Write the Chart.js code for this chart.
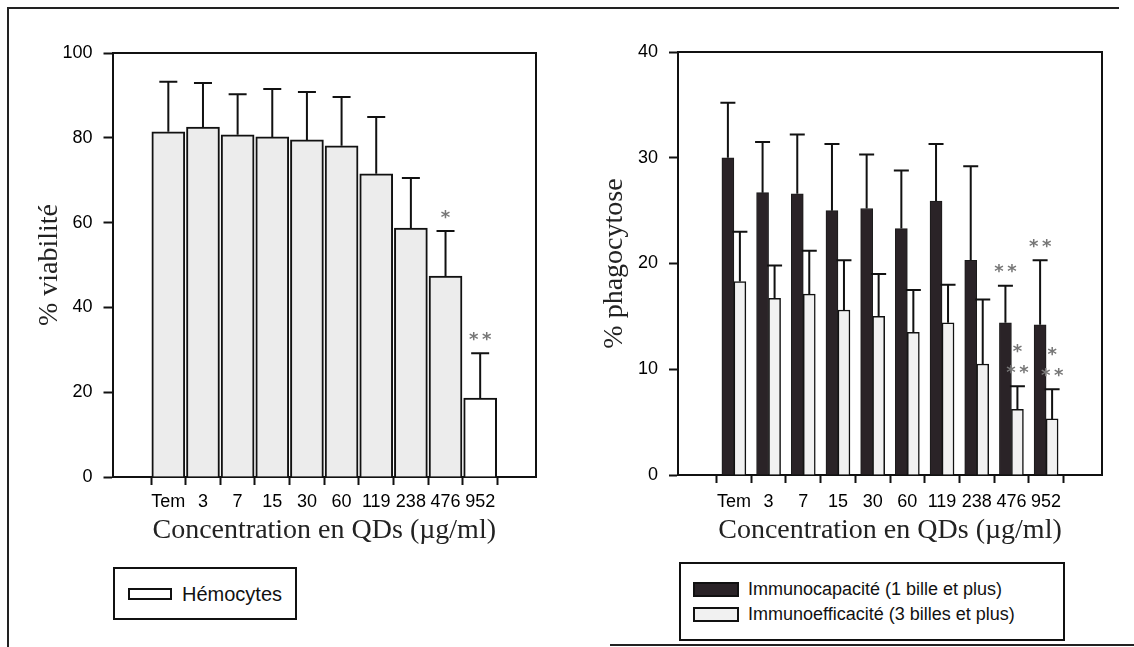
<!DOCTYPE html>
<html>
<head>
<meta charset="utf-8">
<script src="https://cdn.jsdelivr.net/npm/chart.js"></script>
<style>
  body { margin: 0; background: #fff; width: 1134px; height: 647px; position: relative; overflow: hidden;
         font-family: "Liberation Sans", Arial, sans-serif; color: #111; }
  canvas { position: absolute; top: 0; }
  #chartLeft { left: 0; }
  #chartRight { left: 567px; }
  .line { position: absolute; background: #222; }
  .legend { position: absolute; border: 2px solid #111; box-sizing: border-box; background: #fff; }
  .legend .row { display: flex; align-items: center; white-space: nowrap; }
  .legend .sw { box-sizing: border-box; border: 2px solid #111; }
</style>
</head>
<body>
  <div class="line" style="left:7px;top:7px;width:1112px;height:2px"></div>
  <div class="line" style="left:7px;top:7px;width:2px;height:640px"></div>
  <div class="line" style="left:610px;top:644px;width:524px;height:2px"></div>

  <canvas id="chartLeft" width="567" height="560"></canvas>
  <canvas id="chartRight" width="567" height="560"></canvas>

  <div class="legend" id="legendLeft" style="left:113px;top:567px;width:184px;height:53px;padding-top:13px"></div>
  <div class="legend" id="legendRight" style="left:679px;top:562px;width:386px;height:79px;padding-top:13px"></div>

<script>
const categories = ['Tem', '3', '7', '15', '30', '60', '119', '238', '476', '952'];

// % viabilité (hémocytes)
const viabilite    = [81.4, 82.5, 80.7, 80.2, 79.5, 78.1, 71.5, 58.7, 47.4, 18.6];
const viabiliteErr = [11.8, 10.4, 9.6, 11.3, 11.3, 11.5, 13.4, 11.8, 10.6, 10.6];
const viabiliteStars = [[], [], [], [], [], [], [], [], ['*'], ['**']];

// % phagocytose
const capacite      = [30.0, 26.7, 26.6, 25.0, 25.2, 23.3, 25.9, 20.3, 14.4, 14.2];
const capaciteErr   = [5.2, 4.8, 5.6, 6.3, 5.1, 5.5, 5.4, 8.9, 3.5, 6.1];
const capaciteStars = [[], [], [], [], [], [], [], [], ['**'], ['**']];
const efficacite      = [18.3, 16.7, 17.1, 15.6, 15.0, 13.5, 14.4, 10.5, 6.2, 5.3];
const efficaciteErr   = [4.7, 3.1, 4.1, 4.7, 4.0, 4.0, 3.6, 6.1, 2.2, 2.8];
const efficaciteStars = [[], [], [], [], [], [], [], [], ['**', '*'], ['**', '*']];

const pts = arr => arr.map((v, i) => ({ x: i, y: v }));

const errorBars = {
  id: 'errorBars',
  afterDatasetsDraw(chart, args, opts) {
    const ctx = chart.ctx, y = chart.scales.y;
    chart.data.datasets.forEach((ds, di) => {
      const meta = chart.getDatasetMeta(di);
      meta.data.forEach((bar, i) => {
        const top = y.getPixelForValue(ds.data[i].y + ds.errors[i]);
        ctx.save();
        ctx.strokeStyle = '#111';
        ctx.lineWidth = 2;
        ctx.beginPath();
        ctx.moveTo(bar.x, bar.y);
        ctx.lineTo(bar.x, top);
        ctx.moveTo(bar.x - opts.cap / 2, top);
        ctx.lineTo(bar.x + opts.cap / 2, top);
        ctx.stroke();
        ctx.fillStyle = '#777';
        ctx.font = 'bold 18px "DejaVu Sans"';
        ctx.textAlign = 'center';
        ctx.textBaseline = 'alphabetic';
        const m = ctx.measureText('*');
        const shift = (m.actualBoundingBoxAscent - m.actualBoundingBoxDescent) / 2;
        (ds.stars[i] || []).forEach((row, k) => {
          const cy = top - 17 - k * 21;
          for (let s = 0; s < row.length; s++) {
            ctx.fillText('*', bar.x + (s - (row.length - 1) / 2) * 13, cy + shift);
          }
        });
        ctx.restore();
      });
    });
  }
};

const plotFrame = {
  id: 'plotFrame',
  afterDraw(chart) {
    const { ctx, chartArea: a } = chart;
    ctx.save();
    ctx.strokeStyle = '#111';
    ctx.lineWidth = 2;
    ctx.beginPath();
    ctx.moveTo(a.left, a.top);
    ctx.lineTo(a.right, a.top);
    ctx.lineTo(a.right, a.bottom);
    ctx.stroke();
    ctx.restore();
  }
};

function makeOptions(o) {
  return {
    responsive: false,
    animation: false,
    layout: { padding: { left: 0, top: o.top, right: o.right, bottom: 0 } },
    plugins: { legend: { display: false }, tooltip: { enabled: false }, errorBars: { cap: o.cap } },
    scales: {
      x: {
        type: 'linear', min: -1, max: 10,
        afterBuildTicks: s => { s.ticks = categories.map((c, i) => ({ value: i })); },
        afterFit: s => { s.height = o.xHeight; },
        ticks: {
          callback: v => categories[v], autoSkip: false, maxRotation: 0, padding: o.xPad,
          color: '#000', font: { family: 'Liberation Sans', size: 18 }
        },
        grid: { drawOnChartArea: false, tickLength: 8, tickWidth: 2, tickColor: '#111' },
        border: { display: true, width: 2, color: '#111' },
        title: {
          display: true, text: 'Concentration en QDs (µg/ml)', color: '#222',
          font: { family: 'Liberation Serif', size: 28 }, padding: { top: 0, bottom: 13 }
        }
      },
      y: {
        min: 0, max: o.yMax,
        afterFit: s => { s.width = o.yWidth; },
        ticks: {
          stepSize: o.step, padding: 11, color: '#000',
          font: { family: 'Liberation Sans', size: 18 }
        },
        grid: { drawOnChartArea: false, tickLength: 9, tickWidth: 2, tickColor: '#111' },
        border: { display: true, width: 2, color: '#111' },
        title: {
          display: true, text: o.yTitle, color: '#222',
          font: { family: 'Liberation Serif', size: 28 }, padding: { top: o.yTitlePad, bottom: 0 }
        }
      }
    }
  };
}

const leftChart = new Chart(document.getElementById('chartLeft'), {
  type: 'bar',
  data: {
    datasets: [{
      label: 'Hémocytes',
      data: pts(viabilite),
      errors: viabiliteErr,
      stars: viabiliteStars,
      backgroundColor: viabilite.map((v, i) => i === viabilite.length - 1 ? '#ffffff' : '#ececec'),
      legendColor: '#ffffff',
      borderColor: '#111',
      borderWidth: 2,
      barThickness: 33
    }]
  },
  options: makeOptions({ top: 53, right: 31, xHeight: 83, xPad: 6, yWidth: 112.5, yMax: 100, step: 20,
                         yTitle: '% viabilité', yTitlePad: 33, cap: 18 }),
  plugins: [errorBars, plotFrame]
});

const rightChart = new Chart(document.getElementById('chartRight'), {
  type: 'bar',
  data: {
    datasets: [{
      label: 'Immunocapacité (1 bille et plus)',
      data: pts(capacite),
      errors: capaciteErr,
      stars: capaciteStars,
      backgroundColor: '#2a2327',
      legendColor: '#2a2327',
      borderColor: '#1a1a1a',
      borderWidth: 1,
      barThickness: 12
    }, {
      label: 'Immunoefficacité (3 billes et plus)',
      data: pts(efficacite),
      errors: efficaciteErr,
      stars: efficaciteStars,
      backgroundColor: '#f1f1f1',
      legendColor: '#f1f1f1',
      borderColor: '#111',
      borderWidth: 1.5,
      barThickness: 12
    }]
  },
  options: makeOptions({ top: 52, right: 32, xHeight: 85, xPad: 8, yWidth: 111, yMax: 40, step: 10,
                         yTitle: '% phagocytose', yTitlePad: 31, cap: 15 }),
  plugins: [errorBars, plotFrame]
});

function buildLegend(el, chart, o) {
  chart.data.datasets.forEach(ds => {
    const row = document.createElement('div');
    row.className = 'row';
    row.style.height = o.rowH + 'px';
    row.style.fontSize = o.font + 'px';
    const sw = document.createElement('span');
    sw.className = 'sw';
    sw.style.width = o.swW + 'px';
    sw.style.height = o.swH + 'px';
    sw.style.marginLeft = o.ml + 'px';
    sw.style.marginRight = o.mr + 'px';
    sw.style.background = ds.legendColor;
    const tx = document.createElement('span');
    tx.textContent = ds.label;
    row.appendChild(sw);
    row.appendChild(tx);
    el.appendChild(row);
  });
}
buildLegend(document.getElementById('legendLeft'), leftChart, { rowH: 24, font: 20, swW: 44, swH: 12, ml: 13, mr: 10 });
buildLegend(document.getElementById('legendRight'), rightChart, { rowH: 25, font: 18, swW: 46, swH: 15, ml: 12, mr: 9 });
</script>
</body>
</html>
